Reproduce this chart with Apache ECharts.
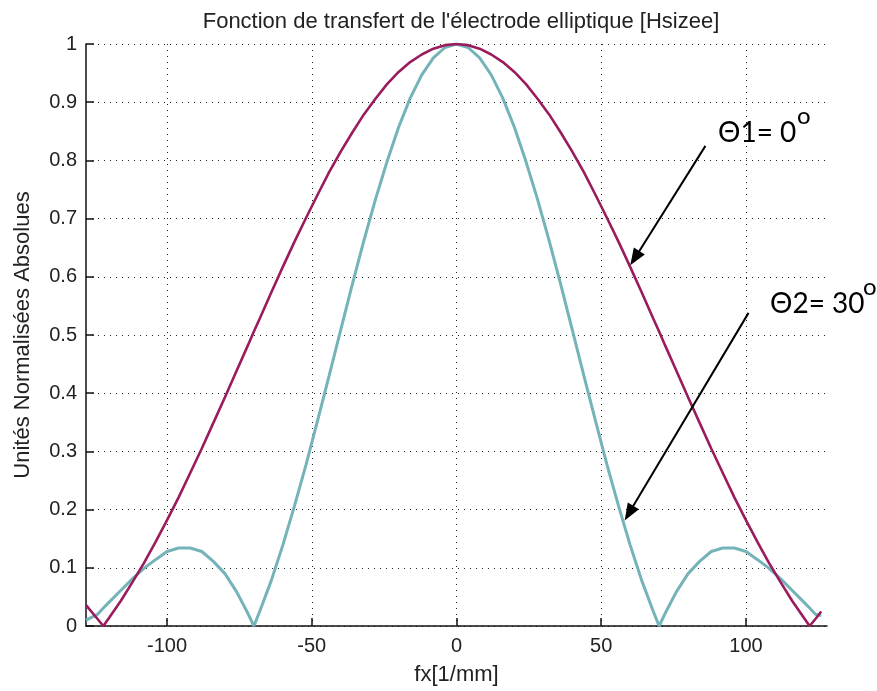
<!DOCTYPE html>
<html>
<head>
<meta charset="utf-8">
<script src="https://cdn.jsdelivr.net/npm/echarts@6/dist/echarts.min.js"></script>
<style>html,body{margin:0;padding:0;background:#fff;}#chart{width:877px;height:691px;}</style>
</head>
<body>
<div id="chart"></div>
<script>
// Frequencies (fx, 1/mm)
var fx = [-128,-124,-122,-120,-116,-112,-108,-104,-100,-96,-92,-88,-84,-80,-76,-72,-70,-68,-64,-60,-56,-52,-48,-44,-40,-36,-32,-28,-24,-20,-16,-12,-8,-4,
          0,4,8,12,16,20,24,28,32,36,40,44,48,52,56,60,64,68,70,72,76,80,84,88,92,96,100,104,108,112,116,120,122,124,126];
// Theta1 = 0 deg (magenta)
var theta1 = [0.036,0.012,0.000,0.014,0.043,0.075,0.108,0.144,0.182,0.221,0.263,0.305,0.349,0.393,0.438,0.483,0.506,0.528,0.573,0.617,0.660,0.701,0.741,0.780,0.815,0.848,0.879,0.906,0.931,0.952,0.969,0.982,0.992,0.998,
              1.000,0.998,0.992,0.982,0.969,0.952,0.931,0.906,0.879,0.848,0.815,0.780,0.741,0.701,0.660,0.617,0.573,0.528,0.506,0.483,0.438,0.393,0.349,0.305,0.263,0.221,0.182,0.144,0.108,0.075,0.043,0.014,0.000,0.012,0.025];
// Theta2 = 30 deg (cyan)
var theta2 = [0.010,0.020,0.031,0.041,0.061,0.081,0.099,0.114,0.128,0.134,0.134,0.128,0.111,0.090,0.059,0.021,0.000,0.025,0.078,0.139,0.206,0.277,0.353,0.430,0.509,0.587,0.662,0.733,0.798,0.857,0.907,0.947,0.976,0.994,
              1.000,0.994,0.976,0.947,0.907,0.857,0.798,0.733,0.662,0.587,0.509,0.430,0.353,0.277,0.206,0.139,0.078,0.025,0.000,0.021,0.059,0.090,0.111,0.128,0.134,0.134,0.128,0.114,0.099,0.081,0.061,0.041,0.031,0.020,0.018];
var xTicks = [-100,-50,0,50,100];
var title = "Fonction de transfert de l'électrode elliptique [Hsizee]";
var xName = "fx[1/mm]";
var yName = "Unités Normalisées Absolues";
// Arrow annotations [start, tip] in data coordinates
var arrow1 = [[86.0, 0.825], [61.6, 0.632]];
var arrow2 = [[100.9, 0.538], [59.6, 0.194]];

function pairs(ys){ return fx.map(function(x,i){ return [x, ys[i]]; }); }

var labelFont = "'Liberation Sans', Arial, sans-serif";
var annFont = "Lato, 'Noto Sans', 'DejaVu Sans', sans-serif";
var grid = {type:[1,5], color:'#222', width:1};

var chart = echarts.init(document.getElementById('chart'), null, {renderer:'canvas'});
chart.setOption({
  animation:false,
  backgroundColor:'#fff',
  title:{text:title, left:456, top:6, textAlign:'center',
    textStyle:{fontFamily:labelFont, fontSize:22, fontWeight:'normal', color:'#222'}},
  grid:{left:86, right:50, top:44, bottom:65, containLabel:false},
  xAxis:{type:'value', min:-128, max:128,
    name:xName, nameLocation:'middle', nameGap:38,
    nameTextStyle:{fontFamily:labelFont, fontSize:22, color:'#222'},
    axisLine:{show:true, onZero:false, lineStyle:{color:'#111', width:1.5}},
    axisTick:{show:true, inside:true, length:8, customValues:xTicks, lineStyle:{color:'#111', width:1.5}},
    axisLabel:{customValues:xTicks, margin:10, fontFamily:labelFont, fontSize:20, color:'#222'},
    splitLine:{show:true, lineStyle:grid}},
  yAxis:{type:'value', min:0, max:1, interval:0.1,
    name:yName, nameLocation:'middle', nameGap:52,
    nameTextStyle:{fontFamily:labelFont, fontSize:22, color:'#222'},
    axisLine:{show:true, onZero:false, lineStyle:{color:'#111', width:1.5}},
    axisTick:{show:true, inside:true, length:8, lineStyle:{color:'#111', width:1.5}},
    axisLabel:{margin:9, fontFamily:labelFont, fontSize:20, color:'#222',
      formatter:function(v){ return String(Math.round(v*10)/10); }},
    splitLine:{show:true, lineStyle:grid}},
  series:[
    {name:'θ2', type:'line', data:pairs(theta2), showSymbol:false, smooth:false, z:2,
      lineStyle:{color:'#74b3b8', width:3}},
    {name:'θ1', type:'line', data:pairs(theta1), showSymbol:false, smooth:false, z:3,
      lineStyle:{color:'#9a1c5c', width:2.6},
      markLine:{silent:true, symbol:['none','triangle'], symbolSize:[13,17], label:{show:false},
        lineStyle:{color:'#000', width:2, type:'solid'},
        data:[[{coord:arrow1[0]},{coord:arrow1[1]}],[{coord:arrow2[0]},{coord:arrow2[1]}]]}}
  ],
  graphic:[
    {type:'text', left:718, top:119, style:{text:'Θ1= 0', font:'28px '+annFont, fill:'#000'}},
    {type:'text', left:797, top:104, style:{text:'o', font:'24px '+annFont, fill:'#000'}},
    {type:'text', left:770, top:290, style:{text:'Θ2= 30', font:'28px '+annFont, fill:'#000'}},
    {type:'text', left:863, top:275, style:{text:'o', font:'24px '+annFont, fill:'#000'}}
  ]
});
</script>
</body>
</html>
